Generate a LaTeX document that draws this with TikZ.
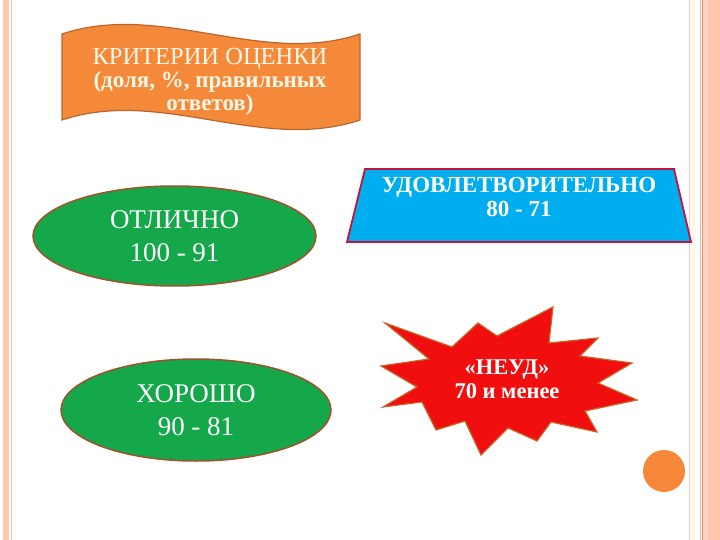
\documentclass[tikz,border=0pt]{standalone}
\usepackage{fontspec}
\setmainfont{Liberation Serif}
\usetikzlibrary{shapes.geometric}
\definecolor{salmon}{HTML}{FFC6B0}
\definecolor{salmonlight}{HTML}{FFD4C4}
\definecolor{tanline}{HTML}{E8B49C}
\definecolor{orline}{HTML}{EE8A64}
\definecolor{paleline}{HTML}{EBCDB8}
\definecolor{cream}{HTML}{FFF6E6}
\definecolor{bannerfill}{HTML}{F5893A}
\definecolor{bannerdraw}{HTML}{B8662E}
\definecolor{bannertext}{HTML}{FFF8E7}
\definecolor{greenfill}{HTML}{14A84B}
\definecolor{greendraw}{HTML}{A0522D}
\definecolor{bluefill}{HTML}{00AEEF}
\definecolor{bluedraw}{HTML}{C0143C}
\definecolor{redfill}{HTML}{F00E0E}
\definecolor{reddraw}{HTML}{C86428}
\definecolor{dotfill}{HTML}{F7883A}
\tikzset{
  gellipse/.style={ellipse, fill=greenfill, draw=greendraw, line width=1.5pt,
    text=white, align=center, inner sep=0pt,
    font=\fontsize{27}{33}\selectfont},
  bluebox/.style={fill=bluefill, draw=bluedraw, line width=1.8pt},
  startxt/.style={text=white, align=center, inner sep=0pt,
    font=\fontsize{22.5}{24}\selectfont\bfseries},
  bluetxt/.style={text=white, align=center, inner sep=0pt,
    font=\fontsize{23}{24}\selectfont\bfseries},
  bannertxt/.style={text=bannertext, align=center, inner sep=0pt,
    font=\fontsize{23}{23}\selectfont\bfseries},
}
\begin{document}
\begin{tikzpicture}[x=1pt,y=-1pt]
\useasboundingbox (0,0) rectangle (720,540);
\fill[white] (0,0) rectangle (720,540);
% left border
\fill[salmon] (3,0) rectangle (9,540);
\draw[paleline, line width=0.8pt] (11.5,0) -- (11.5,540);
\draw[cream, line width=1pt] (14,0) -- (14,540);
% right border
\draw[paleline, line width=1.2pt] (689.5,0) -- (689.5,540);
\fill[cream] (692,0) rectangle (695,540);
\draw[tanline, line width=1pt] (700,0) -- (700,540);
\draw[orline, line width=1pt] (702.5,0) -- (702.5,540);
\fill[salmonlight] (703,0) rectangle (708,540);
\fill[salmon] (708,0) rectangle (720,540);

% wave banner
\coordinate (b1) at (62,34);
\coordinate (b2) at (360,34);
\coordinate (b3) at (360,120);
\coordinate (b4) at (62,120);
\filldraw[fill=bannerfill, draw=bannerdraw, line width=1.2pt]
  (b1) .. controls (161,1) and (261,67) .. (b2) -- (b3)
  .. controls (261,153) and (161,87) .. (b4) -- cycle;
\node[bannertxt] (crit) at (210,82)
  {{\mdseries\fontsize{24.5}{23}\selectfont КРИТЕРИИ ОЦЕНКИ}\\(доля, \%, правильных\\ответов)};

% ellipses
\node[gellipse, minimum width=283pt, minimum height=100pt] (otl) at (174.5,236)
  {ОТЛИЧНО\\100 - 91};
\node[gellipse, minimum width=270pt, minimum height=102pt] (hor) at (196,410)
  {ХОРОШО\\90 - 81};

% trapezoid
\coordinate (t1) at (365,169);
\coordinate (t2) at (674,169);
\coordinate (t3) at (691,242);
\coordinate (t4) at (347,242);
\filldraw[bluebox] (t1) -- (t2) -- (t3) -- (t4) -- cycle;
\node[bluetxt] (udv) at (519,197) {УДОВЛЕТВОРИТЕЛЬНО\\80 - 71};

% star
\filldraw[fill=redfill, draw=reddraw, line width=1.2pt]
  (385,323) -- (452,347) -- (478,323) -- (497,336) -- (553,307) -- (549,343)
  -- (598,338) -- (580,356) -- (632,363) -- (598,383) -- (637,400) -- (585,411)
  -- (597,432) -- (551,422) -- (537,441) -- (508,428) -- (481,455) -- (465,421)
  -- (436,430) -- (422,402) -- (383,407) -- (417,387) -- (381,366) -- (429,359)
  -- cycle;
\node[startxt] (neud) at (507,379) {«НЕУД»\\70 и менее};

% orange dot
\fill[dotfill] (664,471) circle (21);
\end{tikzpicture}
\end{document}
